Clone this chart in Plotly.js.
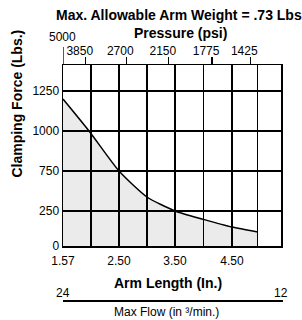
<!DOCTYPE html>
<html>
<head>
<meta charset="utf-8">
<script src="https://cdn.plot.ly/plotly-3.0.1.min.js"></script>
<style>html,body{margin:0;padding:0;background:#fff;}#chart{width:302px;height:320px;}</style>
</head>
<body>
<div id="chart"></div>
<script>
// ---- data ----
var armLength  = [1.57, 1.97, 2.5, 3.0, 3.5, 4.0, 4.5, 4.95];
var clampForce = [1200, 1000, 750, 425, 250, 190, 135, 100];

var xTickVals = [1.57, 2.0, 2.5, 3.0, 3.5, 4.0, 4.5, 4.95];
var xTickText = ["1.57", "", "2.50", "", "3.50", "", "4.50", ""];
var yTickVals = [0, 250, 750, 1000, 1250];
var yTickText = ["0", "250", "750", "1000", "1250"];

var pressureVals = [3850, 2700, 2150, 1775, 1425];
var pressureAtArm = [1.92, 2.63, 3.39, 4.15, 4.82];
var pressureStart = 5000;

var flowLabels = ["24", "12"];

// ---- irregular axis scales of the reference (value stops -> axis units) ----
var xStops = [1.57, 2.0, 2.5, 3.5, 4.5], xUnits = [0, 28, 56, 112, 169];
var yStops = [0, 250, 750, 1000, 1250],  yUnits = [0, 35, 75, 115, 155];
function scale(v, s, u) {
  var i = 0;
  while (i < s.length - 2 && v > s[i + 1]) i++;
  return u[i] + (v - s[i]) * (u[i + 1] - u[i]) / (s[i + 1] - s[i]);
}
function sx(v) { return scale(v, xStops, xUnits); }
function sy(v) { return scale(v, yStops, yUnits); }

var XR = [0, 218], YR = [0, 181];
var FONT = "Liberation Sans, Arial, sans-serif";

var traces = [
  {
    x: armLength.map(sx), y: clampForce.map(sy),
    type: "scatter", mode: "lines", fill: "tozeroy",
    fillcolor: "rgba(0,0,0,0.08)",
    line: {color: "#000", width: 1.5, shape: "spline", smoothing: 0.6},
    hoverinfo: "skip", showlegend: false
  },
  {
    x: pressureAtArm.map(sx), y: pressureAtArm.map(function(){return null;}),
    xaxis: "x2", type: "scatter", mode: "markers",
    marker: {opacity: 0}, hoverinfo: "skip", showlegend: false
  }
];

var layout = {
  width: 302, height: 320,
  margin: {l: 63, r: 21, t: 65, b: 74},
  paper_bgcolor: "#fff", plot_bgcolor: "#fff",
  font: {family: FONT, size: 12, color: "#000"},
  showlegend: false,
  xaxis: {
    range: XR, tickmode: "array",
    tickvals: xTickVals.map(sx), ticktext: xTickText,
    showgrid: true, gridcolor: "#000", gridwidth: 1.3,
    zeroline: false, showline: true, mirror: true, linecolor: "#000", linewidth: 1.5,
    ticks: "", tickfont: {size: 12, family: FONT, color: "#000"},
    ticklabelshift: -1.5, ticklabelstandoff: 3, fixedrange: true
  },
  xaxis2: {
    overlaying: "x", side: "top", range: XR, tickmode: "array",
    tickvals: pressureAtArm.map(sx), ticktext: pressureVals.map(String),
    showgrid: false, zeroline: false, showline: false,
    ticks: "outside", ticklen: 7, tickwidth: 1.3, tickcolor: "#000",
    tickfont: {size: 12, family: FONT, color: "#000"},
    ticklabelshift: -6, ticklabelstandoff: -3, fixedrange: true
  },
  yaxis: {
    range: YR, tickmode: "array",
    tickvals: yTickVals.map(sy), ticktext: yTickText,
    showgrid: true, gridcolor: "#000", gridwidth: 1.3,
    zeroline: false, showline: true, mirror: true, linecolor: "#000", linewidth: 1.5,
    ticks: "", tickfont: {size: 12, family: FONT, color: "#000"},
    fixedrange: true
  },
  shapes: [
    {type: "line", xref: "x", yref: "paper", x0: sx(armLength[0]), x1: sx(armLength[0]),
     y0: 1, y1: 1.099, line: {color: "#000", width: 1.3}},
    {type: "line", xref: "paper", yref: "paper", x0: 0, x1: 1.009,
     y0: -0.304, y1: -0.304, line: {color: "#000", width: 1.8}}
  ],
  annotations: [
    {text: "Max. Allowable Arm Weight = .73 Lbs", xref: "paper", yref: "paper",
     x: 0.532, y: 1.276, xanchor: "center", yanchor: "middle", showarrow: false,
     font: {size: 14, weight: "bold", family: FONT}},
    {text: "Pressure (psi)", xref: "paper", yref: "paper",
     x: 0.537, y: 1.177, xanchor: "center", yanchor: "middle", showarrow: false,
     font: {size: 14, weight: "bold", family: FONT}},
    {text: String(pressureStart), xref: "paper", yref: "paper",
     x: -0.002, y: 1.155, xanchor: "center", yanchor: "middle", showarrow: false,
     font: {size: 12, family: FONT}},
    {text: "Clamping Force (Lbs.)", xref: "paper", yref: "paper", textangle: -90,
     x: -0.211, y: 0.787, xanchor: "center", yanchor: "middle", showarrow: false,
     font: {size: 14, weight: "bold", family: FONT}},
    {text: "Arm Length (In.)", xref: "paper", yref: "paper",
     x: 0.48, y: -0.204, xanchor: "center", yanchor: "middle", showarrow: false,
     font: {size: 14, weight: "bold", family: FONT}},
    {text: flowLabels[0], xref: "paper", yref: "paper",
     x: 0.002, y: -0.26, xanchor: "center", yanchor: "middle", showarrow: false,
     font: {size: 12, family: FONT}},
    {text: flowLabels[1], xref: "paper", yref: "paper",
     x: 0.998, y: -0.26, xanchor: "center", yanchor: "middle", showarrow: false,
     font: {size: 12, family: FONT}},
    {text: "Max Flow (in ³/min.)", xref: "paper", yref: "paper",
     x: 0.475, y: -0.365, xanchor: "center", yanchor: "middle", showarrow: false,
     font: {size: 12, family: FONT}}
  ]
};

Plotly.newPlot("chart", traces, layout, {displayModeBar: false, staticPlot: true});
</script>
</body>
</html>
